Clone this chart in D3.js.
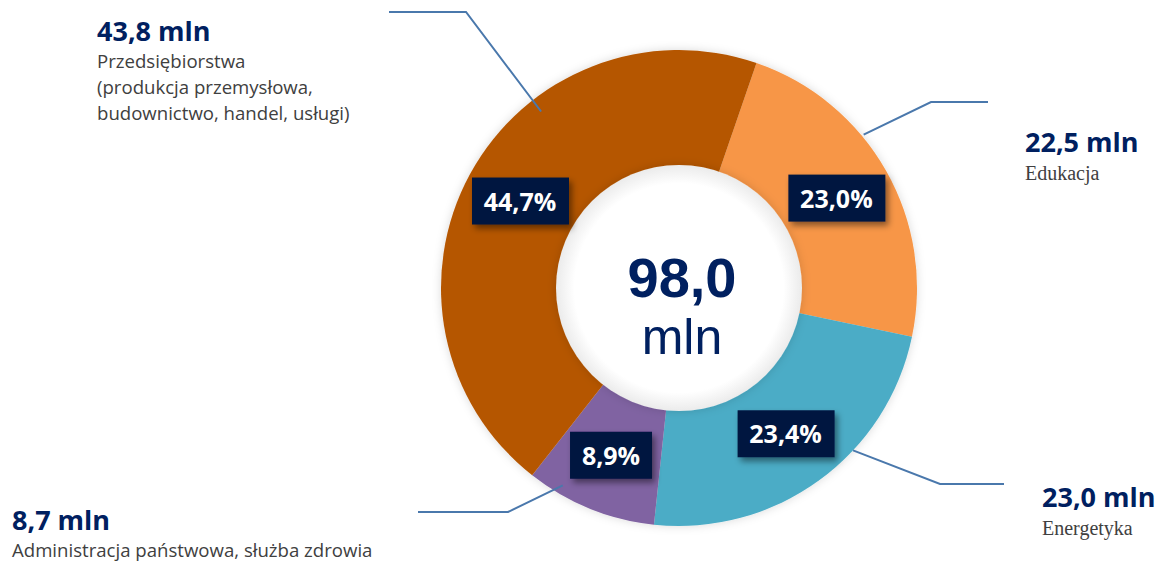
<!DOCTYPE html>
<html>
<head>
<meta charset="utf-8">
<script src="https://cdn.jsdelivr.net/npm/d3@7"></script>
<style>
  body { margin: 0; background: #fff; }
  svg { display: block; }
</style>
</head>
<body>
<script>
// data
const categories = ["Edukacja", "Energetyka", "Administracja państwowa, służba zdrowia",
  "Przedsiębiorstwa (produkcja przemysłowa, budownictwo, handel, usługi)"];
const amounts = [22.5, 23.0, 8.7, 43.8];        // mln
const shares = [23.0, 23.4, 8.9, 44.7];         // %
const colors = ["#f79646", "#4bacc6", "#8064a2", "#b55606"];
const total = 98.0;

const width = 1159, height = 562;
const cx = 679, cy = 288, rOuter = 238, rInner = 120;

// label layout (title, subtitle lines, leader line)
const layout = [
  {x: 1025, y: 152, sub: ["Edukacja"], serif: true,
   leader: {a: 50.3, r: 240, ex: 931, ey: 102, end: 988}},
  {x: 1042, y: 507, sub: ["Energetyka"], serif: true,
   leader: {a: 133, r: 238, ex: 940, ey: 484, end: 1004}},
  {x: 12, y: 530, sub: ["Administracja państwowa, służba zdrowia"], serif: false,
   leader: {a: 210.5, r: 229, ex: 508, ey: 512, end: 418}},
  {x: 97, y: 41, sub: ["Przedsiębiorstwa", "(produkcja przemysłowa,", "budownictwo, handel, usługi)"], serif: false,
   leader: {a: 322, r: 224, ex: 466, ey: 12, end: 389}}
];

const fmt = v => d3.format(".1f")(v).replace(".", ",");

const svg = d3.select("body").append("svg")
  .attr("width", width).attr("height", height);

const defs = svg.append("defs");
const sh = defs.append("filter").attr("id", "boxShadow")
  .attr("x", "-20%").attr("y", "-20%").attr("width", "150%").attr("height", "160%");
sh.append("feDropShadow").attr("dx", 3).attr("dy", 4).attr("stdDeviation", 3)
  .attr("flood-color", "#000").attr("flood-opacity", 0.45);

const glow = defs.append("filter").attr("id", "ringShadow")
  .attr("x", "-10%").attr("y", "-10%").attr("width", "120%").attr("height", "120%");
glow.append("feDropShadow").attr("dx", 0).attr("dy", 0).attr("stdDeviation", 5)
  .attr("flood-color", "#000").attr("flood-opacity", 0.15);

const grad = defs.append("radialGradient").attr("id", "innerGrad");
grad.append("stop").attr("offset", "0%").attr("stop-color", "#ffffff");
grad.append("stop").attr("offset", "85%").attr("stop-color", "#ffffff");
grad.append("stop").attr("offset", "100%").attr("stop-color", "#ebebeb");

const pie = d3.pie().sort(null).value(d => d)
  .startAngle(19 * Math.PI / 180).endAngle(19 * Math.PI / 180 + 2 * Math.PI);
const arcs = pie(shares);
const arc = d3.arc().innerRadius(0).outerRadius(rOuter);

const g = svg.append("g").attr("transform", `translate(${cx},${cy})`);

g.append("g").attr("filter", "url(#ringShadow)")
  .selectAll("path").data(arcs).join("path")
  .attr("d", arc)
  .attr("fill", (d, i) => colors[i]);

// inner white disc
g.append("circle").attr("r", rInner + 3)
  .attr("fill", "url(#innerGrad)")
  .attr("filter", "url(#ringShadow)");

// centre total
g.append("text").attr("x", 3).attr("y", 9)
  .attr("text-anchor", "middle")
  .style("font", "bold 56px 'Liberation Sans', Arial, sans-serif")
  .attr("fill", "#002060")
  .text(fmt(total));
g.append("text").attr("x", 3).attr("y", 66)
  .attr("text-anchor", "middle")
  .style("font", "50px 'Liberation Sans', Arial, sans-serif")
  .attr("fill", "#002060")
  .text("mln");

// percentage boxes
const lab = d3.arc().innerRadius(181).outerRadius(181);
const boxes = g.selectAll("g.box").data(arcs).join("g")
  .attr("class", "box")
  .attr("transform", d => `translate(${lab.centroid(d)})`);
boxes.append("rect")
  .attr("x", (d, i) => shares[i] < 10 ? -41 : -48)
  .attr("width", (d, i) => shares[i] < 10 ? 82 : 97)
  .attr("y", -24).attr("height", 47)
  .attr("fill", "#001540")
  .attr("filter", "url(#boxShadow)");
boxes.append("text")
  .attr("text-anchor", "middle").attr("y", 9)
  .style("font", "bold 25px 'Open Sans', sans-serif")
  .attr("fill", "#fff")
  .text((d, i) => fmt(shares[i]) + "%");

// leader lines
const rad = a => a * Math.PI / 180;
svg.append("g").selectAll("path").data(layout).join("path")
  .attr("d", d => {
    const L = d.leader;
    const sx = cx + L.r * Math.sin(rad(L.a)), sy = cy - L.r * Math.cos(rad(L.a));
    return d3.line()([[sx, sy], [L.ex, L.ey], [L.end, L.ey]]);
  })
  .attr("fill", "none")
  .attr("stroke", "#4a78ac")
  .attr("stroke-width", 2);

// outer labels
const labels = svg.append("g").selectAll("g").data(layout).join("g");
labels.append("text")
  .attr("x", d => d.x).attr("y", d => d.y)
  .style("font", "bold 27px 'Open Sans', sans-serif")
  .attr("fill", "#002060")
  .text((d, i) => fmt(amounts[i]) + " mln");
labels.each(function (d) {
  const t = d3.select(this).append("text")
    .attr("fill", "#404040")
    .style("font", d.serif ? "20px 'Liberation Serif', 'Times New Roman', serif"
                           : "18.6px 'Open Sans', sans-serif");
  d.sub.forEach((s, j) => {
    t.append("tspan").attr("x", d.x)
      .attr("y", d.y + (d.serif ? 28 : 27) + j * 26)
      .text(s);
  });
});
</script>
</body>
</html>
